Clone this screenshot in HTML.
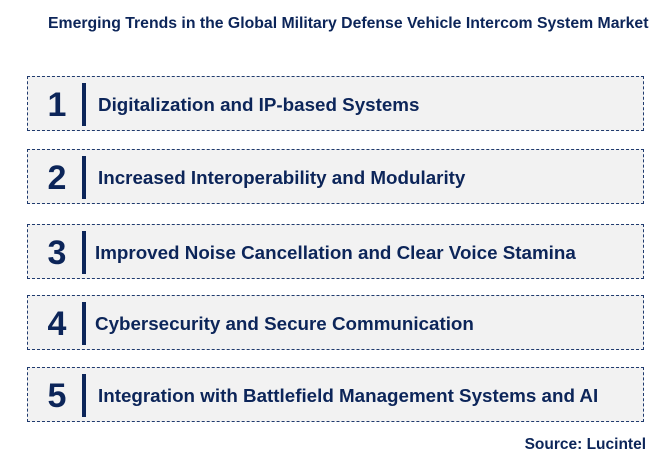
<!DOCTYPE html>
<html><head><meta charset="utf-8"><style>
body{margin:0;width:666px;height:464px;background:#fff;position:relative;font-family:"Liberation Sans",sans-serif;overflow:hidden}
.title{position:absolute;left:48px;top:15px;font-size:15.8px;font-weight:bold;color:#0c2559;white-space:nowrap}
.box{position:absolute;left:27px;width:617px;height:55px;background:#f2f2f2;border:1px dashed #1f3a6e;box-sizing:border-box}
.num{position:absolute;left:12px;width:34px;top:9px;text-align:center;font-size:34px;font-weight:bold;color:#0c2559;line-height:38px}
.bar{position:absolute;left:54px;top:6px;width:4px;height:43px;background:#0c2559}
.txt{position:absolute;left:70px;top:17px;font-size:18.8px;font-weight:bold;color:#0c2559;white-space:nowrap;line-height:22px}
.src{position:absolute;right:20px;top:436px;font-size:15.5px;font-weight:bold;color:#0c2559}
</style></head><body>
<div class="title">Emerging Trends in the Global Military Defense Vehicle Intercom System Market</div>
<div class="box" style="top:76px"><div class="num">1</div><div class="bar"></div><div class="txt">Digitalization and IP-based Systems</div></div>
<div class="box" style="top:149px"><div class="num">2</div><div class="bar"></div><div class="txt">Increased Interoperability and Modularity</div></div>
<div class="box" style="top:224px"><div class="num">3</div><div class="bar"></div><div class="txt" style="left:67px">Improved Noise Cancellation and Clear Voice Stamina</div></div>
<div class="box" style="top:295px"><div class="num">4</div><div class="bar"></div><div class="txt" style="left:67px">Cybersecurity and Secure Communication</div></div>
<div class="box" style="top:367px"><div class="num">5</div><div class="bar"></div><div class="txt">Integration with Battlefield Management Systems and AI</div></div>
<div class="src">Source: Lucintel</div>
</body></html>
